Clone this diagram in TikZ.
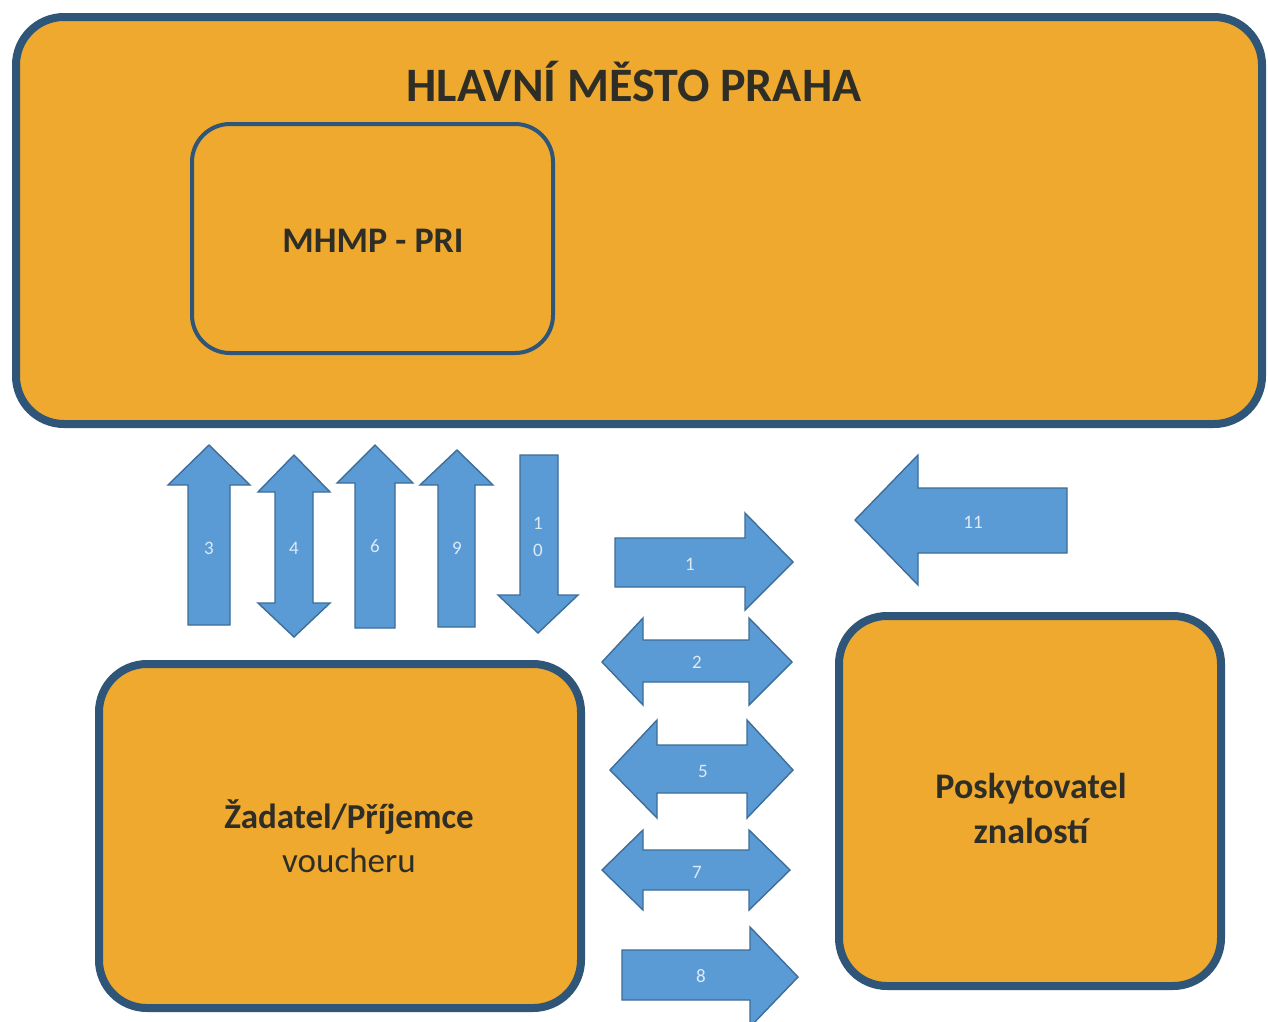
\documentclass[tikz,border=0pt]{standalone}
\usepackage{fontspec}
\setmainfont{Carlito}
\definecolor{boxfill}{HTML}{EEA92E}
\definecolor{boxline}{HTML}{2F5578}
\definecolor{arrfill}{HTML}{5B9BD5}
\definecolor{arrline}{HTML}{3D6D98}
\definecolor{numcol}{HTML}{DCEAF7}
\definecolor{txt}{HTML}{2E2E26}
\tikzset{
  bigbox/.style={draw=boxline, fill=boxfill, line width=8pt, rounded corners=48pt},
  innerbox/.style={draw=boxline, line width=4pt, rounded corners=38pt},
  blockarrow/.style={draw=arrline, fill=arrfill, line width=1.4pt, line join=miter},
  num/.style={text=numcol, font=\fontsize{19}{21}\selectfont, inner sep=0pt},
  boxtext/.style={text=txt, align=center, inner sep=0pt},
}
\begin{document}
\begin{tikzpicture}[x=1pt,y=-1pt]
\useasboundingbox (0,0) rectangle (1268,1021);
\fill[white] (0,0) rectangle (1268,1021);

% boxes
\draw[bigbox] (16,17) rectangle (1262,424);
\draw[innerbox] (192,124) rectangle (553,353);
\draw[bigbox] (99,664) rectangle (581,1008);
\draw[bigbox] (839,616) rectangle (1221,986);

\node[boxtext, font=\bfseries\fontsize{48}{56}\selectfont] (title) at (634,82) {HLAVNÍ MĚSTO PRAHA};
\node[boxtext, font=\bfseries\fontsize{36}{42}\selectfont] (mhmp) at (373,241) {MHMP - PRI};
\node[boxtext, font=\fontsize{35}{44}\selectfont] (zad) at (349,836) {\textbf{Žadatel/Příjemce}\\voucheru};
\node[boxtext, font=\bfseries\fontsize{36}{45}\selectfont] (posk) at (1031,808) {Poskytovatel\\znalostí};

% vertical arrows
\draw[blockarrow] (188,625) -- (188,485) -- (168,485) -- (209,445) -- (250,485) -- (230,485) -- (230,625) -- cycle;
\node[num] (n3) at (209,548) {3};
\draw[blockarrow] (275,603) -- (275,492) -- (258,492) -- (294,455) -- (330,492) -- (313,492) -- (313,603) -- (330,603) -- (294,637) -- (258,603) -- cycle;
\node[num] (n4) at (294,548) {4};
\draw[blockarrow] (355,628) -- (355,483) -- (337,483) -- (375,445) -- (413,483) -- (395,483) -- (395,628) -- cycle;
\node[num] (n6) at (375,546) {6};
\draw[blockarrow] (438,627) -- (438,485) -- (420,485) -- (457,450) -- (493,485) -- (475,485) -- (475,627) -- cycle;
\node[num] (n9) at (457,548) {9};
\draw[blockarrow] (520,455) -- (558,455) -- (558,595) -- (578,595) -- (538,633) -- (498,595) -- (520,595) -- cycle;
\node[num, align=center, font=\fontsize{19}{27}\selectfont] (n10) at (538,537) {1\\0};

% horizontal arrows
\draw[blockarrow] (615,538) -- (745,538) -- (745,513) -- (793,562) -- (745,610) -- (745,587) -- (615,587) -- cycle;
\node[num] (n1) at (690,564) {1};
\draw[blockarrow] (1067,488) -- (918,488) -- (918,455) -- (855,520) -- (918,585) -- (918,553) -- (1067,553) -- cycle;
\node[num] (n11) at (973,522) {11};
\draw[blockarrow] (643,640) -- (749,640) -- (749,618) -- (792,662) -- (749,705) -- (749,682) -- (643,682) -- (643,705) -- (602,662) -- (643,618) -- cycle;
\node[num] (n2) at (697,662) {2};
\draw[blockarrow] (657,745) -- (747,745) -- (747,720) -- (793,770) -- (747,818) -- (747,793) -- (657,793) -- (657,818) -- (610,770) -- (657,720) -- cycle;
\node[num] (n5) at (703,771) {5};
\draw[blockarrow] (643,850) -- (749,850) -- (749,830) -- (790,870) -- (749,910) -- (749,890) -- (643,890) -- (643,910) -- (602,870) -- (643,830) -- cycle;
\node[num] (n7) at (697,872) {7};
\draw[blockarrow] (622,950) -- (750,950) -- (750,927) -- (798,977) -- (750,1027) -- (750,1000) -- (622,1000) -- cycle;
\node[num] (n8) at (701,976) {8};
\end{tikzpicture}
\end{document}
